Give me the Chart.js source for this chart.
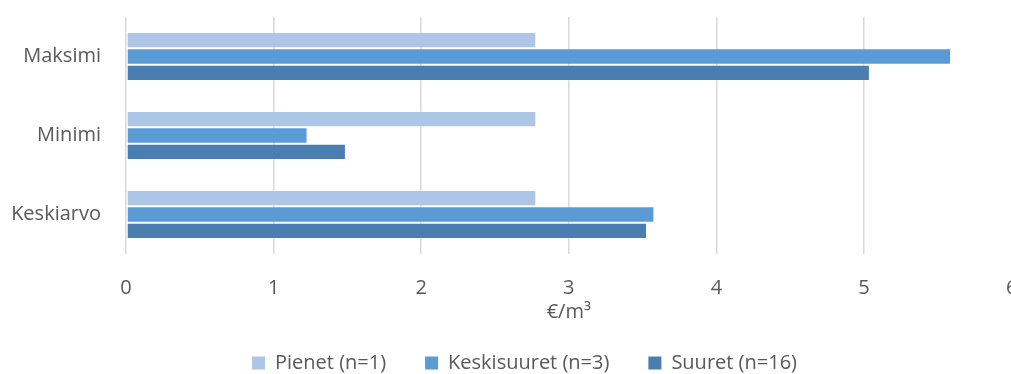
<!DOCTYPE html>
<html>
<head>
<meta charset="utf-8">
<script src="https://cdn.jsdelivr.net/npm/chart.js@4"></script>
<style>
  html, body { margin: 0; padding: 0; background: #fff; overflow: hidden; }
  #wrap { width: 1049px; height: 374px; position: relative; }
</style>
</head>
<body>
<div id="wrap"><canvas id="c"></canvas></div>
<script>
// Cost per cubic metre by plant size group
const categories = ['Maksimi', 'Minimi', 'Keskiarvo'];
const seriesNames = ['Pienet (n=1)', 'Keskisuuret (n=3)', 'Suuret (n=16)'];
const pienet = [2.78, 2.78, 2.78];
const keskisuuret = [5.59, 1.23, 3.58];
const suuret = [5.04, 1.49, 3.53];
const xTicks = [0, 1, 2, 3, 4, 5, 6];
const axisTitle = '€/m³';

const colors = ['#aec6e6', '#5b9bd5', '#4a7eb1'];
const fontFamily = '"Open Sans", "Noto Sans", sans-serif';
const textColor = '#595959';
const fontSize = 20;
const legendGap = 39;

const datasets = [pienet, keskisuuret, suuret].map((values, i) => ({
  label: seriesNames[i],
  data: values,
  backgroundColor: colors[i],
  borderColor: 'rgba(255,255,255,0.25)',
  borderWidth: 1,
  borderSkipped: false,
  barPercentage: 1,
  categoryPercentage: 0.62
}));

// Fixed legend band at the bottom; the wide item gap should not push the row down
const legendBand = {
  id: 'legendBand',
  afterInit(chart) {
    const lg = chart.legend;
    if (!lg) return;
    const fit = lg.fit.bind(lg);
    lg.fit = function () { fit(); this.height = 49; };
  },
  afterLayout(chart) {
    const lg = chart.legend;
    if (!lg) return;
    const shift = legendGap - 28;
    lg.top -= shift;
    lg.height += shift;
  }
};

new Chart(document.getElementById('c'), {
  type: 'bar',
  data: { labels: categories, datasets },
  plugins: [legendBand],
  options: {
    indexAxis: 'y',
    responsive: true,
    maintainAspectRatio: false,
    animation: false,
    layout: { padding: { top: 17, left: 0, right: 0, bottom: 0 } },
    scales: {
      x: {
        min: xTicks[0],
        max: xTicks[xTicks.length - 1],
        afterBuildTicks: (scale) => { scale.ticks = xTicks.map(v => ({ value: v })); },
        afterFit: (scale) => { scale.paddingLeft = 0; scale.paddingRight = 37.4; scale.height = 71; },
        grid: { color: '#d9d9d9', lineWidth: 1.5, drawTicks: false },
        border: { display: false },
        ticks: { color: textColor, font: { family: fontFamily, size: fontSize }, padding: 22 },
        title: {
          display: true,
          text: axisTitle,
          color: textColor,
          font: { family: fontFamily, size: fontSize },
          padding: { top: 0, bottom: 1 }
        }
      },
      y: {
        afterFit: (scale) => { scale.width = 126; scale.paddingTop = 0; scale.paddingBottom = 0; },
        grid: { display: false },
        border: { display: false },
        ticks: { color: textColor, font: { family: fontFamily, size: fontSize }, padding: 17 }
      }
    },
    plugins: {
      legend: {
        position: 'bottom',
        labels: {
          color: textColor,
          font: { family: fontFamily, size: fontSize },
          boxWidth: 13,
          boxHeight: 13,
          padding: legendGap,
          generateLabels: (chart) => chart.data.datasets.map((ds, i) => ({
            text: ds.label,
            fillStyle: ds.backgroundColor,
            strokeStyle: ds.backgroundColor,
            lineWidth: 0,
            fontColor: textColor,
            datasetIndex: i,
            hidden: false
          }))
        }
      },
      tooltip: { enabled: false }
    }
  }
});
</script>
</body>
</html>
